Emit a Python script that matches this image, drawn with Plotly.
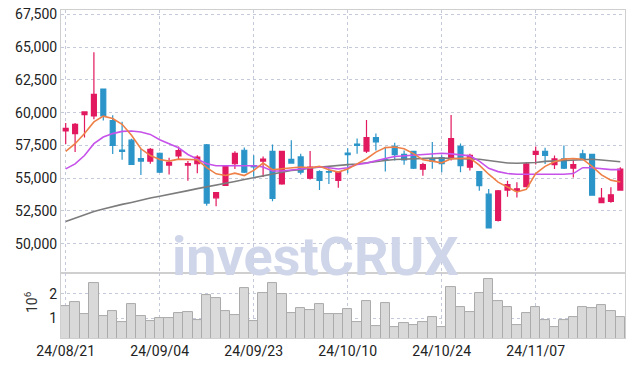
import plotly.graph_objects as go
from plotly.subplots import make_subplots

dates = ["24/08/21","24/08/22","24/08/23","24/08/26","24/08/27","24/08/28","24/08/29","24/08/30",
         "24/09/02","24/09/03","24/09/04","24/09/05","24/09/06","24/09/09","24/09/10","24/09/11",
         "24/09/12","24/09/13","24/09/19","24/09/20","24/09/23","24/09/24","24/09/25","24/09/26",
         "24/09/27","24/09/30","24/10/02","24/10/04","24/10/07","24/10/08","24/10/10","24/10/11",
         "24/10/14","24/10/15","24/10/16","24/10/17","24/10/18","24/10/21","24/10/22","24/10/23",
         "24/10/24","24/10/25","24/10/28","24/10/29","24/10/30","24/10/31","24/11/01","24/11/04",
         "24/11/05","24/11/06","24/11/07","24/11/08","24/11/11","24/11/12","24/11/13","24/11/14",
         "24/11/15","24/11/18","24/11/19","24/11/20"]

open_ = [58600,58400,59850,59750,61800,59400,57150,57900,56500,56300,
         56900,56000,56700,56000,56100,57550,53500,54450,56100,57130,
         55950,56300,57050,54560,56440,56620,55000,55510,55500,54820,
         56920,57600,57070,58100,56420,57430,56810,57050,55680,56480,
         56560,56480,57430,55840,55500,53780,51780,54090,54040,54350,
         56810,57040,56040,56470,55760,56860,56810,53140,53220,54090]
high = [59200,59200,60100,64600,61800,59800,59300,58000,57250,57300,
        56950,56550,57420,56300,56750,57600,53950,55950,57050,57330,
        56750,56650,57560,57100,57900,56870,57080,55600,55850,55500,
        57290,58020,59430,58400,57400,57710,57120,57100,56170,57760,
        56740,59820,57640,56870,55550,54170,54100,54810,54680,56220,
        57420,57320,56730,57500,56400,57170,56850,54240,54300,55830]
low = [57600,57000,58100,59500,59400,56850,56400,56000,55250,56100,
       55400,55270,56400,54800,55380,52900,52850,54400,55700,55400,
       55100,55080,53230,54500,56100,55280,54900,54100,54560,54260,
       55380,56870,56920,57120,55500,56350,56020,55700,55190,55710,
       55450,56350,55450,55580,54040,51150,51700,53580,53530,54300,
       56040,56090,55700,55700,55060,56400,53650,53100,53120,54050]
close = [58800,59100,60050,61400,59750,57500,57050,56050,56300,57200,
         55450,56200,57100,56120,56600,53100,53900,55900,56900,55460,
         55850,56450,53460,57050,56150,55460,55850,54820,55450,55460,
         56800,57500,58100,57760,56380,56790,56400,55760,56040,56300,
         56100,58020,55960,56740,54420,51210,54040,54500,54190,56090,
         57040,56730,56470,55760,56040,56420,53700,53470,53730,55700]

ma5 = [57040,57630,58400,59290,59730,59550,59110,58270,57240,56730,
       56420,56300,56450,56450,56400,55800,55330,55200,55380,55200,
       55590,56150,55640,55720,55800,55850,55800,55900,55640,55460,
       55690,56090,56480,56990,57330,57380,57250,56870,56400,56300,
       56170,56480,56530,56530,55990,55300,54700,54350,53950,54150,
       55350,55900,56250,56450,56500,56450,55900,55250,54850,54700]
ma20 = [55710,56090,56730,57630,58140,58400,58570,58600,58520,58340,
        57930,57630,57320,56810,56480,56100,55950,55950,55950,55950,
        55950,55850,55550,55550,55600,55700,55800,55850,55800,55700,
        55800,56050,56150,56350,56500,56650,56700,56750,56850,56900,
        56900,56850,56800,56700,56300,55750,55500,55350,55300,55300,
        55300,55250,55250,55300,55350,55800,55800,55700,55650,55650]
ma60 = [51700,51950,52250,52450,52650,52850,53000,53150,53330,53480,
        53620,53750,53900,54050,54200,54330,54450,54580,54750,54900,
        55050,55200,55300,55450,55580,55640,55780,55850,55930,56000,
        56030,56080,56180,56280,56350,56420,56450,56500,56520,56530,
        56530,56520,56500,56470,56440,56350,56250,56160,56140,56150,
        56200,56280,56320,56350,56380,56400,56440,56380,56300,56250]

volume_m = [1.51,1.66,1.18,2.44,1.08,1.29,0.83,1.58,1.08,0.88,
            1.00,1.00,1.22,1.25,0.92,1.95,1.82,1.29,1.12,2.23,
            0.88,2.03,2.44,2.00,1.20,1.41,1.33,1.58,1.17,1.17,
            1.37,0.83,1.70,0.67,1.62,0.63,0.79,0.72,0.83,1.04,
            0.63,2.27,1.45,1.25,2.03,2.60,1.70,1.45,0.70,1.20,
            1.45,0.92,0.63,0.92,1.04,1.45,1.41,1.53,1.29,1.04]

tick_dates = dates[::10]
price_range = [47760, 67830]
vol_range = [0.18, 2.85]

UP = "#E2195F"
DOWN = "#2B94C8"
FONT = "Roboto, sans-serif"

fig = make_subplots(rows=2, cols=1, shared_xaxes=True, vertical_spacing=0,
                    row_heights=[0.802, 0.198])

fig.add_trace(go.Candlestick(
    x=dates, open=open_, high=high, low=low, close=close,
    increasing=dict(fillcolor=UP, line=dict(color=UP, width=1.2)),
    decreasing=dict(fillcolor=DOWN, line=dict(color=DOWN, width=1.2)),
    whiskerwidth=0, showlegend=False), row=1, col=1)

fig.add_trace(go.Scatter(x=dates, y=ma60, mode="lines",
                         line=dict(color="#7C7C7C", width=1.6), showlegend=False), row=1, col=1)
fig.add_trace(go.Scatter(x=dates, y=ma20, mode="lines",
                         line=dict(color="#C752EA", width=1.6), showlegend=False), row=1, col=1)
fig.add_trace(go.Scatter(x=dates, y=ma5, mode="lines",
                         line=dict(color="#EE8048", width=1.6), showlegend=False), row=1, col=1)

fig.add_trace(go.Bar(x=dates, y=volume_m, marker=dict(color="#D9D9D9", line=dict(color="#ABABAB", width=1)),
                     showlegend=False, base=0), row=2, col=1)

grid = dict(showgrid=True, gridcolor="#C5CADB", griddash="dot", gridwidth=1, automargin=False,
            showline=True, linecolor="#CFCFCF", linewidth=1, mirror=True, zeroline=False,
            ticklabeloverflow="allow")
TICKFONT = dict(family=FONT, size=14, color="#222222")

fig.update_xaxes(type="category", tickmode="array", tickvals=tick_dates, ticktext=tick_dates,
                 range=[-0.5, len(dates) - 0.5], rangeslider=dict(visible=False), ticks="",
                 tickfont=TICKFONT, **grid)
fig.update_xaxes(showticklabels=False, row=1, col=1)
fig.update_yaxes(range=price_range, tick0=0, dtick=2500, tickformat=",", ticks="",
                 tickfont=TICKFONT, row=1, col=1, **grid)
fig.update_yaxes(range=vol_range, tickmode="array", tickvals=[1, 2], ticks="",
                 tickfont=TICKFONT, row=2, col=1, **grid)

fig.add_annotation(text="10<sup>6</sup>", xref="paper", yref="paper", x=-0.053, y=0.11,
                   textangle=-90, showarrow=False, xanchor="center", yanchor="middle",
                   font=dict(family=FONT, size=14, color="#333333"))

fig.add_annotation(text="<b>investCRUX</b>", xref="paper", yref="paper", x=0.4507, y=0.25,
                   showarrow=False, font=dict(family="Roboto", size=54, color="#D0D6EA"),
                   xanchor="center", yanchor="middle")

fig.update_layout(width=626, height=359, margin=dict(l=53, r=9, t=2, b=29),
                  paper_bgcolor="white", plot_bgcolor="white", bargap=0, boxgap=0.25,
                  font=dict(family=FONT))

fig.write_html("out.html")
